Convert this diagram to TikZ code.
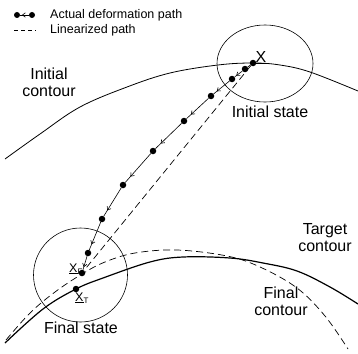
\documentclass[tikz,border=0pt]{standalone}
\usepackage{fontspec}
\setmainfont{Liberation Sans}
\usetikzlibrary{arrows.meta,decorations.markings}
\begin{document}
\begin{tikzpicture}[x=1pt,y=-1pt,
  dot/.style={circle,fill=black,inner sep=0pt,minimum size=6.5pt},
  seg/.style={line width=0.6pt},
  segarrow/.style={seg,postaction={decorate},decoration={markings,
    mark=at position 0.8 with {\arrow{Straight Barb[length=3pt,width=4.5pt]}}}},
  lin/.style={line width=0.7pt,dash pattern=on 7pt off 4pt},
  contour/.style={line width=0.8pt},
  target/.style={line width=1.2pt},
  region/.style={line width=0.6pt},
  lbl/.style={font=\fontsize{16}{17}\selectfont,align=center,inner sep=0pt},
  leg/.style={font=\fontsize{12.5}{14}\selectfont,inner sep=0pt,anchor=base west},
  xl/.style={font=\fontsize{12.5}{14}\selectfont,inner sep=0pt}
]
\useasboundingbox (0,0) rectangle (358,353);

% legend
\node[dot,minimum size=6pt] (l1) at (17,15) {};
\node[dot,minimum size=6pt] (l2) at (32,15) {};
\draw[segarrow] (l2) -- (l1);
\node[leg] (legA) at (50,18.5) {Actual deformation path};
\coordinate (ls) at (14,30);
\coordinate (le) at (36,30);
\draw[line width=0.7pt,dash pattern=on 4pt off 3pt] (ls) -- (le);
\node[leg] (legB) at (50,33.5) {Linearized path};

% contours
\draw[contour] plot[smooth,tension=0.6] coordinates {(5,159) (40,134) (80,107) (127,87) (170,73) (218,65) (253,63) (280,65) (310,72) (358,91)};
\draw[target] plot[smooth,tension=0.6] coordinates {(5,343) (43,309) (76,289) (103,278) (150,262) (183,257) (230,258) (263,263) (297,271) (330,287) (358,304)};
\draw[lin] plot[smooth,tension=0.6] coordinates {(6,340) (30,313) (55,292) (82,274) (105,262) (135,253) (177,250) (227,256) (260,267) (297,288) (325,316) (348,349)};

% state regions
\draw[region] (265,63.5) ellipse [x radius=48, y radius=38.5];
\draw[region] (80.5,275) circle [radius=47];

% deformation path
\node[dot] (d1) at (253,63) {};
\node[dot] (d2) at (245,69) {};
\node[dot] (d3) at (232,79) {};
\node[dot] (d4) at (211,96) {};
\node[dot] (d5) at (184,121) {};
\node[dot] (d6) at (153,151) {};
\node[dot] (d7) at (123,185) {};
\node[dot] (d8) at (102,219) {};
\node[dot] (d9) at (88,253) {};
\node[dot] (d10) at (82,273) {};
\node[dot] (xt) at (76,289) {};
\draw[seg] (d1) -- (d2);
\draw[segarrow] (d2) -- (d3);
\draw[segarrow] (d3) -- (d4);
\draw[segarrow] (d4) -- (d5);
\draw[segarrow] (d5) -- (d6);
\draw[segarrow] (d6) -- (d7);
\draw[segarrow] (d7) -- (d8);
\draw[segarrow] (d8) -- (d9);
\draw[segarrow] (d9) -- (d10);
\draw[lin] (d1) -- (d10);

% labels
\node[lbl,anchor=base] (x0) at (261,62) {\underline{X}};
\node[xl,anchor=base west] (xf) at (69,272) {\underline{X}\raisebox{-2pt}{\fontsize{8}{8}\selectfont F}};
\node[xl,anchor=base west] (xtl) at (75,301) {\underline{X}\raisebox{-2pt}{\fontsize{8}{8}\selectfont T}};
\node[lbl,anchor=base] (ic) at (49,96) {Initial\\contour};
\node[lbl,anchor=base] (is) at (270,117) {Initial state};
\node[lbl,anchor=base] (tc) at (325,251) {Target\\contour};
\node[lbl,anchor=base] (fc) at (281,315) {Final\\contour};
\node[lbl,anchor=base] (fs) at (81,333) {Final state};
\end{tikzpicture}
\end{document}
